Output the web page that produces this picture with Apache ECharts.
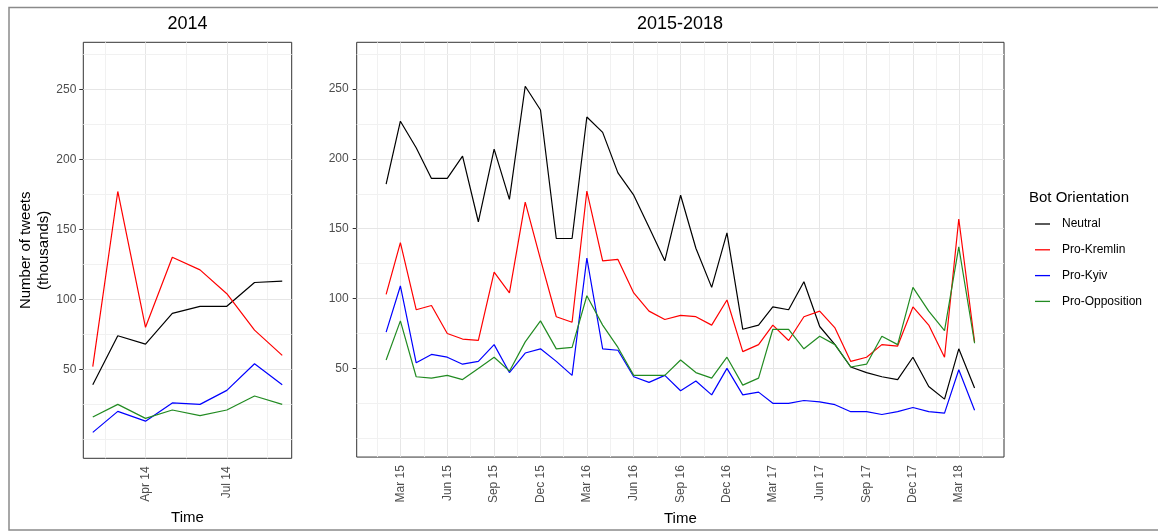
<!DOCTYPE html>
<html>
<head>
<meta charset="utf-8">
<title>Bot tweets by orientation</title>
<script src="https://cdn.jsdelivr.net/npm/echarts@6/dist/echarts.min.js"></script>
<style>
  html, body { margin: 0; padding: 0; background: #ffffff; }
  #chart { width: 1158px; height: 531px; }
</style>
</head>
<body>
<div id="chart"></div>
<script>
// ---- 2014 panel (monthly, thousands of tweets) ----
const months2014 = ['2014-02-01', '2014-03-01', '2014-04-01', '2014-05-01',
                    '2014-06-01', '2014-07-01', '2014-08-01', '2014-09-01'];
const neutral2014    = [39, 74, 68, 90, 95, 95, 112, 113];
const kremlin2014    = [52, 177, 80, 130, 121, 104, 78, 60];
const kyiv2014       = [5, 20, 13, 26, 25, 35, 54, 39];
const opposition2014 = [16, 25, 15, 21, 17, 21, 31, 25];

// ---- 2015-2018 panel ----
const months1518 = [
  '2015-02-01', '2015-03-01', '2015-04-01', '2015-05-01', '2015-06-01', '2015-07-01',
  '2015-08-01', '2015-09-01', '2015-10-01', '2015-11-01', '2015-12-01',
  '2016-01-01', '2016-02-01', '2016-03-01', '2016-04-01', '2016-05-01', '2016-06-01',
  '2016-07-01', '2016-08-01', '2016-09-01', '2016-10-01', '2016-11-01', '2016-12-01',
  '2017-01-01', '2017-02-01', '2017-03-01', '2017-04-01', '2017-05-01', '2017-06-01',
  '2017-07-01', '2017-08-01', '2017-09-01', '2017-10-01', '2017-11-01', '2017-12-01',
  '2018-01-01', '2018-02-01', '2018-03-01', '2018-04-01'
];
const neutral1518 = [182, 227, 208, 186, 186, 202, 155, 207, 171, 252, 235,
                     143, 143, 230, 219, 190, 174, 151, 127, 174, 136, 108, 147,
                     78, 81, 94, 92, 112, 80, 67, 51, 47, 44, 42, 58,
                     37, 28, 64, 36];
const kremlin1518 = [103, 140, 92, 95, 75, 71, 70, 119, 104, 169, 128,
                     87, 83, 177, 127, 128, 104, 91, 85, 88, 87, 81, 99,
                     62, 67, 81, 70, 87, 91, 79, 55, 58, 67, 66, 94,
                     81, 58, 157, 69];
const kyiv1518 = [76, 109, 54, 60, 58, 53, 55, 67, 47, 61, 64,
                  55, 45, 129, 64, 63, 44, 40, 45, 34, 41, 31, 50,
                  31, 33, 25, 25, 27, 26, 24, 19, 19, 17, 19, 22,
                  19, 18, 49, 20];
const opposition1518 = [56, 84, 44, 43, 45, 42, 50, 58, 48, 69, 84,
                        64, 65, 102, 81, 65, 45, 45, 45, 56, 47, 43, 58,
                        38, 43, 78, 78, 64, 73, 67, 51, 53, 73, 67, 108,
                        91, 77, 137, 68];

// ---- axis breaks ----
const ticks2014 = ['2014-04-01', '2014-07-01'];
const ticks1518 = ['2015-03-01', '2015-06-01', '2015-09-01', '2015-12-01',
                   '2016-03-01', '2016-06-01', '2016-09-01', '2016-12-01',
                   '2017-03-01', '2017-06-01', '2017-09-01', '2017-12-01',
                   '2018-03-01'];
const yTicks = [50, 100, 150, 200, 250];
const yLimits = [0, 270];

const seriesNames = ['Neutral', 'Pro-Kremlin', 'Pro-Kyiv', 'Pro-Opposition'];
const seriesColors = ['#000000', '#ff0000', '#0000ff', '#228b22'];

// ---- helpers ----
const MON = ['Jan', 'Feb', 'Mar', 'Apr', 'May', 'Jun', 'Jul', 'Aug', 'Sep', 'Oct', 'Nov', 'Dec'];
const toTs = s => { const p = s.split('-').map(Number); return Date.UTC(p[0], p[1] - 1, p[2]); };
const fmtMonth = v => { const d = new Date(v); return MON[d.getUTCMonth()] + ' ' + String(d.getUTCFullYear()).slice(2); };
const expand = (lo, hi) => { const p = (hi - lo) * 0.05; return [lo - p, hi + p]; };
const FONT = '"Liberation Sans", Arial, Helvetica, sans-serif';

// major breaks plus minor lines halfway between them (one break added on each side)
function xGridLines(ticks, lo, hi) {
  const t = ticks.map(toTs);
  const step = t[1] - t[0];
  const ext = [t[0] - step].concat(t, [t[t.length - 1] + step]);
  const lines = [];
  for (let i = 0; i < ext.length - 1; i++) {
    const mid = (ext[i] + ext[i + 1]) / 2;
    if (mid > lo && mid < hi) lines.push({ xAxis: mid, lineStyle: { color: '#f1f1f1', width: 1 } });
  }
  t.forEach(v => lines.push({ xAxis: v, lineStyle: { color: '#e6e6e6', width: 1 } }));
  return lines;
}
function yGridLines(lo, hi) {
  const lines = [];
  const step = (yTicks[1] - yTicks[0]) / 2;
  for (let v = yTicks[0] - 2 * step; v <= yTicks[yTicks.length - 1] + 2 * step; v += step) {
    if (v <= lo || v >= hi) continue;
    const major = yTicks.indexOf(v) >= 0;
    lines.push({ yAxis: v, lineStyle: { color: major ? '#e6e6e6' : '#f1f1f1', width: 1 } });
  }
  return lines;
}

const xr2014 = expand(toTs(months2014[0]), toTs(months2014[months2014.length - 1]));
const xr1518 = expand(toTs(months1518[0]), toTs(months1518[months1518.length - 1]));
const yr = expand(yLimits[0], yLimits[1]);

function xAxisFor(idx, range, ticks) {
  return {
    type: 'value', gridIndex: idx, min: range[0], max: range[1],
    splitLine: { show: false },
    axisLine: { show: false },
    axisTick: { show: true, customValues: ticks.map(toTs), length: 4, lineStyle: { color: '#333333', width: 1 } },
    axisLabel: { customValues: ticks.map(toTs), formatter: fmtMonth, rotate: 90, margin: 8,
                 fontSize: 12, color: '#4d4d4d', fontFamily: FONT },
    name: 'Time', nameLocation: 'middle', nameGap: 52,
    nameTextStyle: { fontSize: 15, color: '#000000', fontFamily: FONT }
  };
}
function yAxisFor(idx, withName, margin) {
  const ax = {
    type: 'value', gridIndex: idx, min: yr[0], max: yr[1],
    splitLine: { show: false },
    axisLine: { show: false },
    axisTick: { show: true, customValues: yTicks, length: 4, lineStyle: { color: '#333333', width: 1 } },
    axisLabel: { customValues: yTicks, margin: margin, fontSize: 12, color: '#4d4d4d', fontFamily: FONT }
  };
  if (withName) {
    ax.name = 'Number of tweets\n(thousands)';
    ax.nameLocation = 'middle';
    ax.nameRotate = 90;
    ax.nameGap = 30;
    ax.nameTextStyle = { fontSize: 15, lineHeight: 18, color: '#000000', fontFamily: FONT, align: 'center' };
  }
  return ax;
}

function gridSeries(idx, xr, ticks) {
  return {
    type: 'line', xAxisIndex: idx, yAxisIndex: idx, data: [], silent: true, z: 1,
    markLine: {
      silent: true, symbol: 'none', z: 1, animation: false,
      label: { show: false }, emphasis: { disabled: true },
      lineStyle: { type: 'solid' },
      data: xGridLines(ticks, xr[0], xr[1]).concat(yGridLines(yr[0], yr[1]))
    }
  };
}

function lineSeries(idx, months, values, k) {
  return {
    name: seriesNames[k], type: 'line', xAxisIndex: idx, yAxisIndex: idx, z: 3,
    showSymbol: false, symbol: 'none', animation: false,
    lineStyle: { color: seriesColors[k], width: 1.2 },
    itemStyle: { color: seriesColors[k] },
    emphasis: { disabled: true },
    data: months.map((m, i) => [toTs(m), values[i]])
  };
}

const data2014 = [neutral2014, kremlin2014, kyiv2014, opposition2014];
const data1518 = [neutral1518, kremlin1518, kyiv1518, opposition1518];

const series = [gridSeries(0, xr2014, ticks2014), gridSeries(1, xr1518, ticks1518)];
data2014.forEach((vals, k) => series.push(lineSeries(0, months2014, vals, k)));
data1518.forEach((vals, k) => series.push(lineSeries(1, months1518, vals, k)));

const chart = echarts.init(document.getElementById('chart'), null, { renderer: 'canvas' });
chart.setOption({
  backgroundColor: '#ffffff',
  animation: false,
  textStyle: { fontFamily: FONT },
  title: [
    { text: '2014', left: 187.5, top: 15, textAlign: 'center', padding: 0,
      textStyle: { fontSize: 18, fontWeight: 'normal', color: '#000000', fontFamily: FONT } },
    { text: '2015-2018', left: 680, top: 15, textAlign: 'center', padding: 0,
      textStyle: { fontSize: 18, fontWeight: 'normal', color: '#000000', fontFamily: FONT } },
    { text: 'Bot Orientation', left: 1029, top: 190, padding: 0,
      textStyle: { fontSize: 15, fontWeight: 'normal', color: '#000000', fontFamily: FONT } }
  ],
  legend: {
    data: seriesNames, orient: 'vertical', left: 1035, top: 218, padding: 0,
    icon: 'path://M0,0 L15,0 L15,1.3 L0,1.3 Z',
    itemWidth: 15, itemHeight: 12, itemGap: 13.8, selectedMode: false,
    textStyle: { fontSize: 12, color: '#000000', fontFamily: FONT, padding: [0, 0, 0, 7] }
  },
  grid: [
    { left: 83.3, top: 42.3, width: 208.4, height: 416, show: true,
      borderColor: '#333333', borderWidth: 1, backgroundColor: '#ffffff', containLabel: false },
    { left: 356.7, top: 42.3, width: 647.3, height: 416.5, show: true,
      borderColor: '#333333', borderWidth: 1, backgroundColor: '#ffffff', containLabel: false }
  ],
  xAxis: [xAxisFor(0, xr2014, ticks2014), xAxisFor(1, xr1518, ticks1518)],
  yAxis: [yAxisFor(0, true, 7), yAxisFor(1, false, 8)],
  graphic: [{
    type: 'rect', silent: true, z: 100,
    shape: { x: 9, y: 7.5, width: 1160, height: 522.5 },
    style: { fill: 'none', stroke: '#8a8a8a', lineWidth: 1.5 }
  }],
  series: series
});
</script>
</body>
</html>
